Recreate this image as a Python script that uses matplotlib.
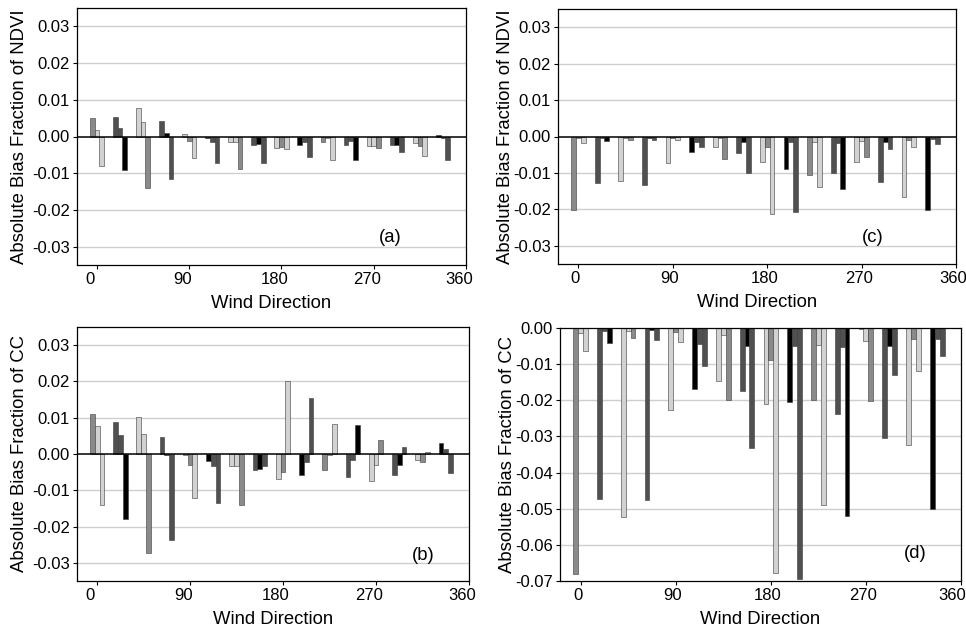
import numpy as np
import matplotlib
matplotlib.use('Agg')
import matplotlib.pyplot as plt
from matplotlib.transforms import ScaledTranslation

plt.rcParams['font.family'] = ['Liberation Sans', 'DejaVu Sans']
plt.rcParams['axes.unicode_minus'] = False

###############################################################################
# Data: 16 wind sectors, 3 bars per sector
###############################################################################
DIRS = np.arange(16) * 22.5
SHADES = [
    'GLL', 'DDK', 'LLG', 'DKD', 'LGL', 'KDD', 'LLG', 'DKD',
    'LGL', 'KDD', 'GLL', 'DDK', 'LLG', 'DKD', 'LGL', 'KDD'
]
ndvi_a = [
    (0.0050, 0.0018, -0.0080), (0.0054, 0.0024, -0.0092),
    (0.0078, 0.0039, -0.0139), (0.0043, 0.0009, -0.0117),
    (0.0007, -0.0011, -0.0058), (-0.0005, -0.0015, -0.0072),
    (-0.0016, -0.0016, -0.0089), (-0.0022, -0.0020, -0.0072),
    (-0.0030, -0.0028, -0.0034), (-0.0023, -0.0015, -0.0057),
    (-0.0016, -0.0005, -0.0065), (-0.0023, -0.0012, -0.0063),
    (-0.0027, -0.0025, -0.0032), (-0.0024, -0.0024, -0.0042),
    (-0.0018, -0.0025, -0.0052), (0.0005, -0.0005, -0.0065),
]
cc_b = [
    (0.0110, 0.0076, -0.0141), (0.0087, 0.0052, -0.0179),
    (0.0102, 0.0056, -0.0274), (0.0047, -0.0002, -0.0237),
    (-0.0003, -0.0029, -0.0122), (-0.0018, -0.0034, -0.0134),
    (-0.0032, -0.0032, -0.0141), (-0.0045, -0.0040, -0.0034),
    (-0.0068, -0.0050, 0.0201), (-0.0057, -0.0022, 0.0155),
    (-0.0043, -0.0003, 0.0084), (-0.0064, -0.0016, 0.0079),
    (-0.0074, -0.0029, 0.0038), (-0.0057, -0.0029, 0.0020),
    (-0.0017, -0.0021, 0.0006), (0.0029, 0.0014, -0.0053),
]
ndvi_c = [
    (-0.0202, -0.0003, -0.0018), (-0.0127, -0.0003, -0.0012),
    (-0.0121, -0.0003, -0.0009), (-0.0132, -0.0003, -0.0009),
    (-0.0073, -0.0003, -0.0009), (-0.0043, -0.0014, -0.0029),
    (-0.0028, -0.0005, -0.0061), (-0.0046, -0.0014, -0.0101),
    (-0.0071, -0.0028, -0.0213), (-0.0090, -0.0016, -0.0208),
    (-0.0106, -0.0016, -0.0139), (-0.0099, -0.0018, -0.0145),
    (-0.0069, -0.0011, -0.0055), (-0.0124, -0.0016, -0.0034),
    (-0.0165, -0.0009, -0.0030), (-0.0202, -0.0007, -0.0020),
]
cc_d = [
    (-0.0682, -0.0013, -0.0065), (-0.0474, -0.0008, -0.0042),
    (-0.0523, -0.0007, -0.0027), (-0.0475, -0.0006, -0.0033),
    (-0.0228, -0.0011, -0.0039), (-0.0168, -0.0043, -0.0105),
    (-0.0148, -0.0020, -0.0198), (-0.0173, -0.0051, -0.0331),
    (-0.0209, -0.0089, -0.0677), (-0.0205, -0.0050, -0.0694),
    (-0.0200, -0.0046, -0.0489), (-0.0239, -0.0053, -0.0521),
    (-0.0003, -0.0037, -0.0203), (-0.0304, -0.0050, -0.0131),
    (-0.0323, -0.0030, -0.0120), (-0.0502, -0.0030, -0.0077),
]
XTICKS = [0, 90, 180, 270, 360]
YT_SYM = [0.03, 0.02, 0.01, 0.0, -0.01, -0.02, -0.03]
YT_D = [0.0, -0.01, -0.02, -0.03, -0.04, -0.05, -0.06, -0.07]

COLS = {'G': '#8a8a8a', 'L': '#d2d2d2', 'D': '#505050', 'K': '#000000'}
(W, H) = (966, 633)
BW = 4.6

###############################################################################
# Plotting
###############################################################################
fig = plt.figure(figsize=(W/100, H/100), dpi=100)


def panel(box, vals, yticks, ylim, ylabel, tag, tagxy, xlab_dx, ylab_x, last_dx=None):
    (l, r, t, b) = box
    ax = fig.add_axes([l/W, (H-b)/H, (r-l)/W, (b-t)/H])
    vals = np.asarray(vals)
    for k in range(3):
        cs = [COLS[s[k]] for s in SHADES]
        ax.bar(
            DIRS + (k-1)*BW, vals[:, k], BW, color=cs,
            edgecolor='#3a3a3a', lw=0.4, zorder=2
        )
    for y in yticks:
        if y != 0 and ylim[0] < y < ylim[1]:
            ax.axhline(y, color='#cfcfcf', lw=1.0, zorder=1)
    ax.axhline(0, color='black', lw=1.1, zorder=3)
    ax.set_xlim(-19.5, 360)
    ax.set_ylim(*ylim)
    ax.set_xticks(XTICKS)
    ax.set_xticklabels([str(v) for v in XTICKS], fontsize=12)
    ax.set_yticks(yticks)
    ax.set_yticklabels(['%.2f' % v for v in yticks], fontsize=12)
    ax.tick_params(length=3, width=0.8, pad=2)
    labs = ax.get_xticklabels()
    for (i, lab) in enumerate(labs):
        dx = xlab_dx
        if last_dx is not None and i == len(labs) - 1:
            dx = last_dx
        lab.set_transform(
            lab.get_transform() + ScaledTranslation(dx/100, 0, fig.dpi_scale_trans)
        )
    for sp in ax.spines.values():
        sp.set_linewidth(0.9)
    ax.set_xlabel('Wind Direction', fontsize=13.3, labelpad=6)
    fig.text(
        ylab_x/W, 1 - ((t+b)/2)/H, ylabel, rotation=90,
        ha='center', va='center', fontsize=13.3
    )
    fig.text(tagxy[0]/W, 1 - tagxy[1]/H, tag, ha='center', va='center', fontsize=13.3)
    return ax


panel((77, 466, 8, 265), ndvi_a, YT_SYM, (-0.035, 0.035),
      'Absolute Bias Fraction of NDVI', '(a)', (390, 237), -7, 20)
panel((77, 469, 327, 581), cc_b, YT_SYM, (-0.035, 0.035),
      'Absolute Bias Fraction of CC', '(b)', (423, 555), -7, 20)
panel((558, 956, 9, 264), ndvi_c, YT_SYM, (-0.035, 0.035),
      'Absolute Bias Fraction of NDVI', '(c)', (873, 238), -3, 506)
panel((560, 961, 328, 581), cc_d, YT_D, (-0.07, 0.0),
      'Absolute Bias Fraction of CC', '(d)', (915, 554), -3, 508, last_dx=-9)

fig.savefig('out.png', dpi=100)
